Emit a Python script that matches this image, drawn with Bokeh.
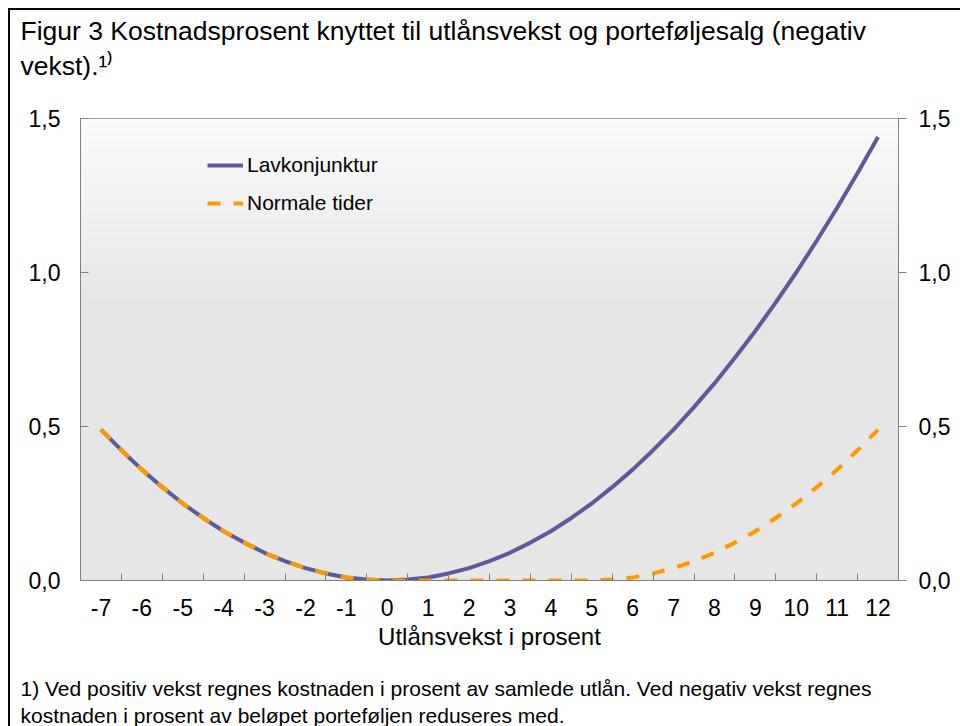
import numpy as np
from bokeh.plotting import figure
from bokeh.models import (Range1d, LinearAxis, FixedTicker, Legend, LegendItem,
                          Title)
from bokeh.embed import file_html
from bokeh.resources import INLINE

# ---------------- data ----------------
x_vals = [-7, -6.5, -6, -5.5, -5, -4.5, -4, -3.5, -3, -2.5, -2, -1.5, -1, -0.5,
          0, 0.5, 1, 1.5, 2, 2.5, 3, 3.5, 4, 4.5, 5, 5.5, 6, 6.5, 7, 7.5,
          8, 8.5, 9, 9.5, 10, 10.5, 11, 11.5, 12]
lavkonjunktur = [0.490, 0.423, 0.360, 0.303, 0.250, 0.203, 0.160, 0.123, 0.090,
                 0.063, 0.040, 0.023, 0.010, 0.003, 0.000, 0.003, 0.010, 0.023,
                 0.040, 0.063, 0.090, 0.123, 0.160, 0.203, 0.250, 0.303, 0.360,
                 0.423, 0.490, 0.563, 0.640, 0.723, 0.810, 0.903, 1.000, 1.103,
                 1.210, 1.323, 1.440]
normale_tider = [0.490, 0.423, 0.360, 0.303, 0.250, 0.203, 0.160, 0.123, 0.090,
                 0.063, 0.040, 0.023, 0.010, 0.003, 0.000, 0.000, 0.000, 0.000,
                 0.000, 0.000, 0.000, 0.000, 0.000, 0.000, 0.000, 0.003, 0.010,
                 0.023, 0.040, 0.063, 0.090, 0.123, 0.160, 0.203, 0.250, 0.303,
                 0.360, 0.423, 0.490]
series_names = ["Lavkonjunktur", "Normale tider"]
x_ticks = [-7, -6, -5, -4, -3, -2, -1, 0, 1, 2, 3, 4, 5, 6, 7, 8, 9, 10, 11, 12]
x_tick_labels = ["-7", "-6", "-5", "-4", "-3", "-2", "-1", "0", "1", "2", "3",
                 "4", "5", "6", "7", "8", "9", "10", "11", "12"]
y_ticks = [0.0, 0.5, 1.0, 1.5]
y_tick_labels = ["0,0", "0,5", "1,0", "1,5"]
x_axis_label = "Utlånsvekst i prosent"
title_lines = ["Figur 3 Kostnadsprosent knyttet til utlånsvekst og porteføljesalg (negativ",
               "vekst).\u00b9\u207e"]
foot_lines = ["1) Ved positiv vekst regnes kostnaden i prosent av samlede utlån. Ved negativ vekst regnes",
              "kostnaden i prosent av beløpet porteføljen reduseres med."]

# ---------------- style ----------------
FONT = "Liberation Sans"
GRAY = "#808080"
PURPLE = "#5B5B9C"
ORANGE = "#FF9900"

x0, x1 = x_ticks[0] - 0.5, x_ticks[-1] + 0.5
y0, y1 = y_ticks[0], y_ticks[-1]

p = figure(width=960, height=726, output_backend="svg", toolbar_location=None,
           tools="", x_range=Range1d(x0, x1), y_range=Range1d(y0, y1),
           min_border_left=80, min_border_right=62, min_border_top=118,
           min_border_bottom=146)
p.xgrid.visible = False
p.ygrid.visible = False
p.outline_line_color = GRAY
p.outline_line_width = 1
p.background_fill_color = "white"
p.border_fill_color = None
# outer black frame (top and left edges visible in the window)
p.styles = {"background": "linear-gradient(#000, #000) 8px 8px / 2px 100% no-repeat, "
                          "linear-gradient(#000, #000) 8px 8px / 100% 2px no-repeat, #ffffff"}

# title (trailing blank line keeps the gap above the plot area)
p.title.text = "\n".join(title_lines + [" "])
p.title.align = "left"
p.title.offset = -60
p.title.text_font = FONT
p.title.text_font_size = "26.5px"
p.title.text_font_style = "normal"
p.title.text_color = "black"
p.title.text_line_height = 1.17
p.title.vertical_align = "bottom"
p.title.standoff = 5

# gradient background of the plot area
N = 462
img = np.zeros((N, 1), dtype=np.uint32)
view = img.view(dtype=np.uint8).reshape((N, 1, 4))
for i in range(N):
    t = i / (N - 1)
    if t < 0.6:
        g = 230
    else:
        g = int(round(230 + (251 - 230) * (t - 0.6) / 0.4))
    view[i, 0, :] = [g, g, g, 255]
p.image_rgba(image=[img], x=x0, y=y0, dw=x1 - x0, dh=y1 - y0, level="image")

r1 = p.line(x_vals, lavkonjunktur, line_color=PURPLE, line_width=4)
r2 = p.line(x_vals, normale_tider, line_color=ORANGE, line_width=4,
            line_dash="13 13")

# x axis
xa = p.xaxis[0]
xa.ticker = FixedTicker(ticks=x_ticks,
                        minor_ticks=[t + 0.5 for t in x_ticks[:-1]])
xa.major_label_overrides = dict(zip(x_ticks, x_tick_labels))
xa.major_tick_in = 0
xa.major_tick_out = 0
xa.minor_tick_in = 7
xa.minor_tick_out = 0
xa.minor_tick_line_color = GRAY
xa.axis_line_color = GRAY
xa.major_label_standoff = 18
xa.major_label_text_font = FONT
xa.major_label_text_font_size = "23px"
xa.major_label_text_color = "black"
xa.axis_label = x_axis_label
xa.axis_label_standoff = 4
xa.axis_label_text_font = FONT
xa.axis_label_text_font_size = "24px"
xa.axis_label_text_font_style = "normal"
xa.axis_label_text_color = "black"

# left y axis
ya = p.yaxis[0]
ya.ticker = FixedTicker(ticks=y_ticks, minor_ticks=[])
ya.major_label_overrides = dict(zip(y_ticks, y_tick_labels))
ya.major_tick_in = 8
ya.major_tick_out = 0
ya.major_tick_line_color = GRAY
ya.minor_tick_line_color = None
ya.axis_line_color = GRAY
ya.major_label_standoff = 20
ya.major_label_text_font = FONT
ya.major_label_text_font_size = "23px"
ya.major_label_text_color = "black"

# right y axis
yr = LinearAxis(ticker=FixedTicker(ticks=y_ticks, minor_ticks=[]))
yr.major_label_overrides = dict(zip(y_ticks, y_tick_labels))
yr.major_tick_in = 0
yr.major_tick_out = 8
yr.major_tick_line_color = GRAY
yr.minor_tick_line_color = None
yr.axis_line_color = GRAY
yr.major_label_standoff = 12
yr.major_label_text_font = FONT
yr.major_label_text_font_size = "23px"
yr.major_label_text_color = "black"
p.add_layout(yr, "right")

# footnote (leading blank line gives the gap below the axis title)
foot = Title(text="\n".join([" "] + foot_lines), align="left", offset=-60,
             text_font=FONT, text_font_size="21px", text_font_style="normal",
             text_color="black", text_line_height=1.19,
             vertical_align="top", standoff=-6)
p.add_layout(foot, "below")

# legend
legend = Legend(items=[LegendItem(label=series_names[0], renderers=[r1]),
                       LegendItem(label=series_names[1], renderers=[r2])],
                location=(127, 365), padding=0, margin=0, spacing=14,
                glyph_width=36, glyph_height=24, label_height=24,
                label_standoff=4, label_text_font=FONT,
                label_text_font_size="21px", label_text_color="black",
                border_line_color=None, background_fill_alpha=0)
p.add_layout(legend)

open("out.html", "w").write(file_html(p, INLINE))
